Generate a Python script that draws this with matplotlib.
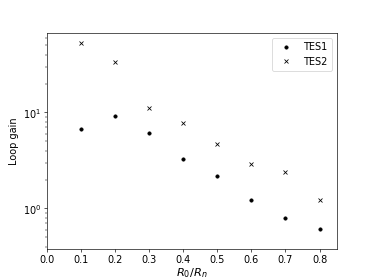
import numpy as np
import matplotlib
matplotlib.use("Agg")
import matplotlib.pyplot as plt

plt.rcParams['font.size'] = 12

# R0/Rn bias points
r_frac = [0.1, 0.2, 0.3, 0.4, 0.5, 0.6, 0.7, 0.8]

# loop gain
tes1_gain = [6.8, 9.2, 6.05, 3.27, 2.19, 1.23, 0.79, 0.61]
tes2_gain = [52.3, 33.2, 11.2, 7.68, 4.68, 2.94, 2.37, 1.23]

fig = plt.figure(figsize=(6.4, 4.8), dpi=374 / 6.4)
plt.semilogy(r_frac, tes1_gain, 'k.', markersize=8, label='TES1')
plt.semilogy(r_frac, tes2_gain, 'kx', label='TES2')
plt.xlim(0, 0.85)
plt.ylim(0.377, 67)
plt.xlabel('$R_0/R_n$', fontsize=14, labelpad=1)
plt.ylabel('Loop gain', fontsize=12)
plt.legend(loc='upper right')
plt.savefig('out.png')
